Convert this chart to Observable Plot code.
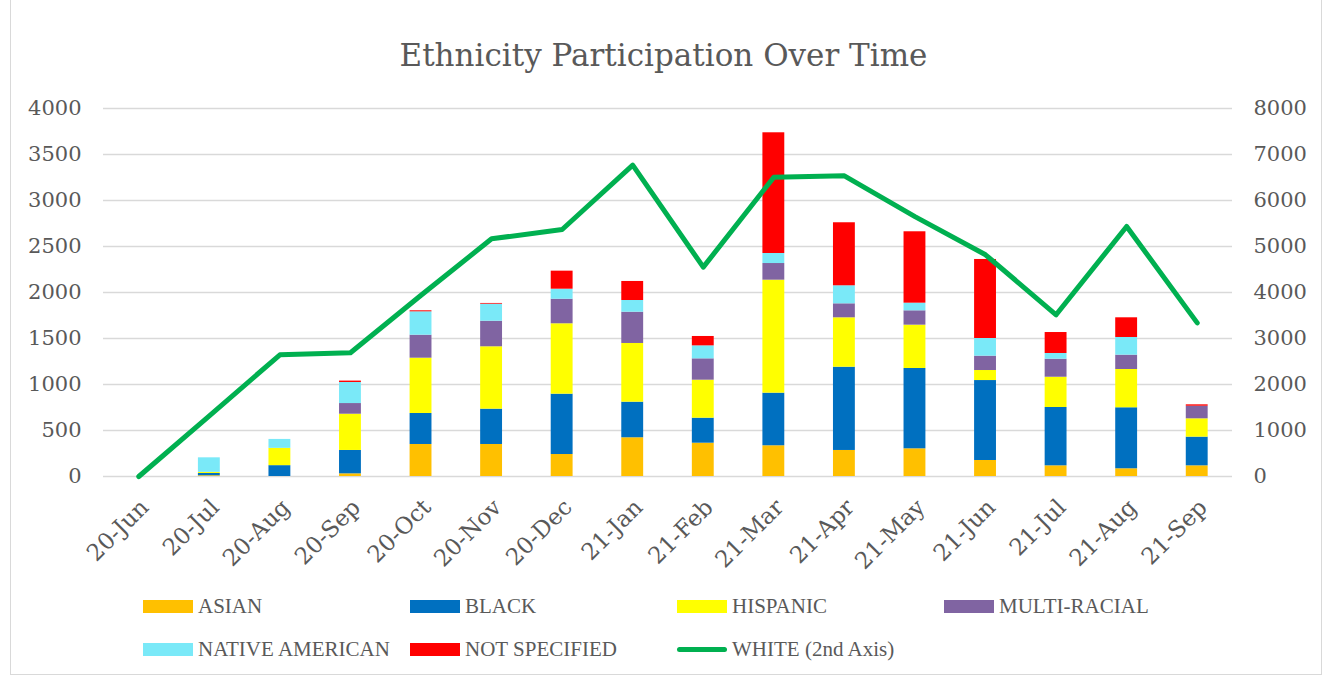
<!DOCTYPE html>
<html><head><meta charset="utf-8">
<script src="https://cdn.jsdelivr.net/npm/d3@7"></script>
<script src="https://cdn.jsdelivr.net/npm/@observablehq/plot@0.6"></script>
<style>
html,body{margin:0;padding:0;background:#fff}
body{width:1327px;height:677px;overflow:hidden;position:relative;font-family:"DejaVu Serif",serif;color:#595959}
#frame{position:absolute;left:10px;top:-2px;width:1312px;height:677px;border:1px solid #d9d9d9;box-sizing:border-box}
#title{position:absolute;left:0;width:1327px;top:34px;text-align:center;font-size:31px;line-height:42px;white-space:nowrap}
#chart{position:absolute;left:0;top:80px}
.item{position:absolute;height:24px;display:flex;align-items:center;font-family:"Liberation Serif",serif;font-size:21px;white-space:nowrap}
.sw{width:50px;height:13px;margin-right:5px}
.ln{width:50px;height:5px;border-radius:3px;margin-right:5px}
</style>
</head><body>
<div id="frame"></div>
<div id="title">Ethnicity Participation Over Time</div>
<div id="chart"></div>
<div id="legend"></div>
<script>
const months = ["20-Jun","20-Jul","20-Aug","20-Sep","20-Oct","20-Nov","20-Dec","21-Jan","21-Feb","21-Mar","21-Apr","21-May","21-Jun","21-Jul","21-Aug","21-Sep"];
const asian        = [0, 8, 0, 29, 348, 348, 239, 421, 362, 334, 283, 301, 174, 116, 84, 116];
const black        = [0, 25, 118, 254, 337, 384, 656, 387, 272, 572, 905, 873, 869, 634, 663, 312];
const hispanic     = [0, 12, 188, 394, 601, 678, 765, 638, 413, 1228, 537, 471, 109, 329, 416, 199];
const multiRacial  = [0, 0, 0, 116, 250, 278, 267, 340, 232, 181, 152, 156, 156, 196, 156, 137];
const nativeAm     = [0, 158, 97, 229, 254, 185, 109, 127, 141, 109, 196, 83, 192, 62, 192, 0];
const notSpecified = [0, 0, 0, 15, 11, 8, 196, 207, 102, 1312, 685, 776, 859, 228, 214, 15];
const white        = [0, 1320, 2646, 2690, 3940, 5167, 5370, 6770, 4551, 6507, 6537, 5650, 4820, 3515, 5435, 3340];
const leftTicks = [0, 500, 1000, 1500, 2000, 2500, 3000, 3500, 4000];
const rightTicks = [0, 1000, 2000, 3000, 4000, 5000, 6000, 7000, 8000];

const names = ["ASIAN","BLACK","HISPANIC","MULTI-RACIAL","NATIVE AMERICAN","NOT SPECIFIED"];
const colors = ["#FFC000","#0070C0","#FFFF00","#8064A2","#7AE9F8","#FF0000"];
const lineColor = "#00B050";
const seriesVals = [asian, black, hispanic, multiRacial, nativeAm, notSpecified];

const rows = [];
names.forEach((n, k) => months.forEach((m, i) => rows.push({month: m, group: n, value: seriesVals[k][i]})));
const whiteRows = months.map((m, i) => ({month: m, value: white[i]}));

const chart = Plot.plot({
  width: 1327, height: 480,
  marginTop: 28, marginBottom: 84, marginLeft: 103, marginRight: 95,
  x: {domain: months, paddingInner: 0.69, paddingOuter: 0.345, round: false, label: null},
  y: {domain: [0, 4000], label: null},
  color: {domain: names, range: colors},
  style: {fontFamily: "DejaVu Serif", fontSize: "21px", color: "#595959", background: "transparent", overflow: "visible"},
  marks: [
    Plot.gridY(leftTicks, {stroke: "#d9d9d9", strokeOpacity: 1, strokeWidth: 1.5}),
    Plot.axisY(leftTicks, {tickSize: 0, tickPadding: 22, label: null, tickFormat: d => String(d)}),
    Plot.axisY(rightTicks.map(d => d / 2), {anchor: "right", tickSize: 0, tickPadding: 21, label: null, tickFormat: d => String(d * 2)}),
    Plot.barY(rows, {x: "month", y: "value", fill: "group", order: null}),
    Plot.lineY(whiteRows, {x: "month", y: d => d.value / 2, stroke: lineColor, strokeWidth: 5, strokeLinejoin: "round", strokeLinecap: "round"}),
    Plot.axisX({tickSize: 0, tickRotate: -45, tickPadding: 27, fontSize: 23, dx: 6, label: null})
  ]
});
document.getElementById("chart").appendChild(chart);

const legend = document.getElementById("legend");
const items = names.map((n, k) => ({label: n, color: colors[k], line: false}));
items.push({label: "WHITE (2nd Axis)", color: lineColor, line: true});
const colX = [143, 410, 677, 944];
const rowY = [594, 637];
items.forEach((it, i) => {
  const d = document.createElement("div");
  d.className = "item";
  d.style.left = colX[i % 4] + "px";
  d.style.top = rowY[Math.floor(i / 4)] + "px";
  const s = document.createElement("div");
  s.className = it.line ? "ln" : "sw";
  s.style.background = it.color;
  d.appendChild(s);
  d.appendChild(document.createTextNode(it.label));
  legend.appendChild(d);
});
</script>
</body></html>
